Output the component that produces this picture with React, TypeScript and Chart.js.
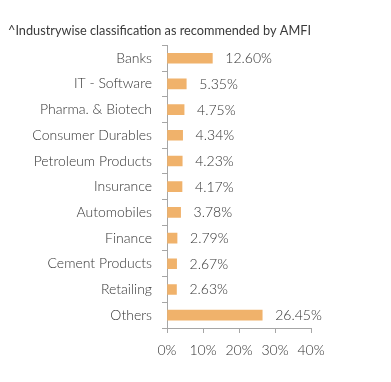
import React, { useEffect, useRef } from "react";
import { Chart, registerables } from "chart.js";

Chart.register(...registerables);

const titleText = "^Industrywise classification as recommended by AMFI";
const categories = [
  "Banks",
  "IT - Software",
  "Pharma. & Biotech",
  "Consumer Durables",
  "Petroleum Products",
  "Insurance",
  "Automobiles",
  "Finance",
  "Cement Products",
  "Retailing",
  "Others",
];
const values = [12.6, 5.35, 4.75, 4.34, 4.23, 4.17, 3.78, 2.79, 2.67, 2.63, 26.45];
const xTicks = [0, 10, 20, 30, 40];

const FONT = "Lato, 'Noto Sans', sans-serif";
const TEXT = "#333333";
const LINE = "#a6a6a6";

const valueLabels = {
  id: "valueLabels",
  afterDatasetsDraw(chart: any) {
    const { ctx } = chart;
    const meta = chart.getDatasetMeta(0);
    ctx.save();
    ctx.font = `300 14px ${FONT}`;
    ctx.fillStyle = TEXT;
    ctx.textAlign = "left";
    ctx.textBaseline = "middle";
    meta.data.forEach((bar: any, i: number) => {
      ctx.fillText(values[i].toFixed(2) + "%", bar.x + 13, bar.y + 0.5);
    });
    ctx.restore();
  },
};

export default function App() {
  const ref = useRef<HTMLCanvasElement>(null);
  useEffect(() => {
    if (!ref.current) return;
    const chart = new Chart(ref.current, {
      type: "bar",
      data: {
        labels: categories,
        datasets: [
          {
            data: values,
            backgroundColor: "#f0b26b",
            barThickness: 10,
          },
        ],
      },
      options: {
        indexAxis: "y",
        animation: false,
        responsive: false,
        layout: { padding: { left: 0, right: 72, top: 0, bottom: 0 } },
        plugins: {
          legend: { display: false },
          tooltip: { enabled: false },
          title: {
            display: true,
            text: titleText,
            align: "start",
            color: "#3a3a3a",
            font: { family: FONT, size: 12.8, weight: "normal" },
            padding: { top: 15, bottom: 7 },
          },
        },
        scales: {
          x: {
            min: 0,
            max: 40,
            afterBuildTicks(scale: any) {
              scale.ticks = xTicks.map((v) => ({ value: v }));
            },
            afterFit(scale: any) {
              scale.height = 46;
            },
            grid: { drawOnChartArea: false, tickLength: 5, color: LINE },
            border: { color: LINE },
            ticks: {
              color: TEXT,
              font: { family: FONT, size: 14, weight: 300 },
              padding: 9,
              callback: (v: any) => v + "%",
            },
          },
          y: {
            afterFit(scale: any) {
              scale.width = 159;
            },
            grid: { drawOnChartArea: false, tickLength: 5, color: LINE, offset: true },
            border: { color: LINE },
            ticks: {
              color: TEXT,
              font: { family: FONT, size: 14, weight: 300 },
              padding: 10,
            },
          },
        },
      },
      plugins: [valueLabels],
    });
    return () => chart.destroy();
  }, []);
  return (
    <div style={{ width: 375, height: 366 }}>
      <canvas ref={ref} width={375} height={366} style={{ width: 375, height: 366 }} />
    </div>
  );
}
